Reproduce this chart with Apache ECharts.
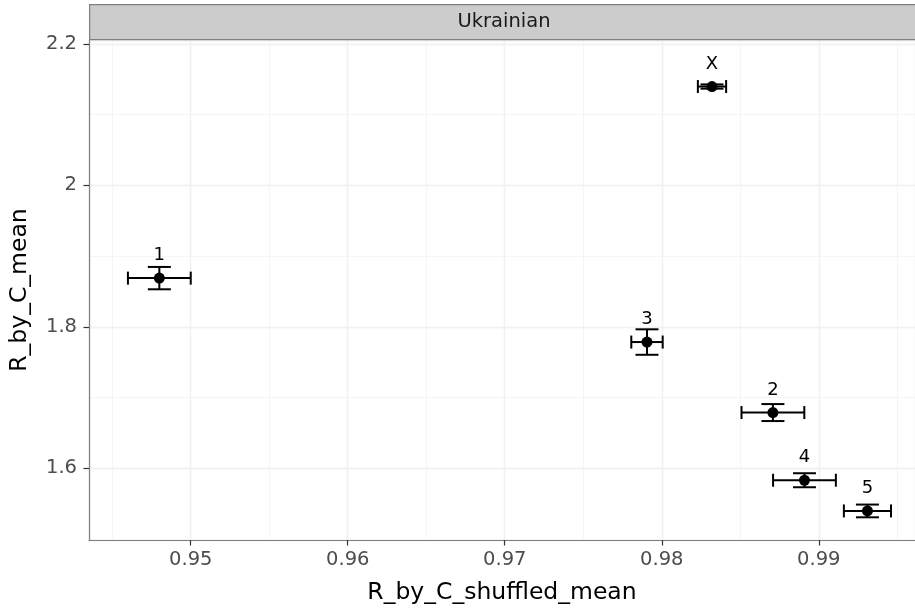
<!DOCTYPE html>
<html>
<head>
<meta charset="utf-8">
<script src="https://cdn.jsdelivr.net/npm/echarts@6/dist/echarts.min.js"></script>
<style>
  html, body { margin: 0; padding: 0; background: #fff; }
  #chart { width: 915px; height: 611px; }
</style>
</head>
<body>
<div id="chart"></div>
<script>
  // data
  var labels = ['1', '2', '3', '4', '5', 'X'];
  var xMean = [0.948, 0.98708, 0.97906, 0.98909, 0.9931, 0.9832];
  var xErr = [0.002, 0.002, 0.001, 0.002, 0.0015, 0.0009];
  var yMean = [1.8688, 1.6787, 1.7784, 1.583, 1.5396, 2.1397];
  var yErr = [0.0158, 0.012, 0.018, 0.0099, 0.009, 0.003];
  var facet = 'Ukrainian';

  var font = 'DejaVu Sans';
  // the panel runs a little past the right edge of the picture
  var xMin = 0.94352, xMax = 0.99613;
  var yMin = 1.4985, yMax = 2.2055;

  var rows = labels.map(function(l, i) {
    return [xMean[i], yMean[i], xErr[i], yErr[i], l];
  });

  function mainAxis(min, max, step, name, gap, margin) {
    return {
      type: 'value', min: min, max: max,
      minInterval: step, maxInterval: step,
      name: name, nameLocation: 'middle', nameGap: gap,
      nameTextStyle: { fontFamily: font, fontSize: 23.5, color: '#000' },
      axisLine: { show: true, lineStyle: { color: '#7f7f7f', width: 1.2 } },
      axisTick: { show: true, length: 5.5, lineStyle: { color: '#333', width: 1.2 } },
      axisLabel: { fontFamily: font, fontSize: 19.5, color: '#4d4d4d', margin: margin,
                   showMinLabel: false, showMaxLabel: false },
      splitLine: { show: true, lineStyle: { color: '#ebebeb', width: 1.4 } }
    };
  }

  function minorAxis(min, max, step) {
    return {
      type: 'value', min: min, max: max,
      minInterval: step, maxInterval: step,
      axisLine: { show: false }, axisTick: { show: false }, axisLabel: { show: false },
      splitLine: { show: true, lineStyle: { color: '#f3f3f3', width: 0.8 } }
    };
  }

  var chart = echarts.init(document.getElementById('chart'), null, { renderer: 'canvas' });

  var option = {
    backgroundColor: '#fff',
    animation: false,
    grid: { left: 89, top: 40, right: 0, height: 500, containLabel: false },
    xAxis: [
      mainAxis(xMin, xMax, 0.01, 'R_by_C_shuffled_mean', 41, 10),
      minorAxis(xMin, xMax, 0.005)
    ],
    yAxis: [
      mainAxis(yMin, yMax, 0.2, 'R_by_C_mean', 57, 12),
      minorAxis(yMin, yMax, 0.1)
    ],
    graphic: [
      {
        type: 'rect', left: 89, top: 4, z: 10,
        shape: { width: 831, height: 35 },
        style: { fill: '#cccccc', stroke: '#7f7f7f', lineWidth: 1.2 }
      },
      {
        type: 'text', x: 504, y: 22, z: 11,
        style: { text: facet, fontFamily: font, fontSize: 19.5, fill: '#1a1a1a',
                 align: 'center', verticalAlign: 'middle' }
      }
    ],
    series: [
      {
        type: 'custom',
        xAxisIndex: 0, yAxisIndex: 0,
        data: rows,
        z: 3,
        renderItem: function(params, api) {
          var x = api.value(0), y = api.value(1);
          var ex = api.value(2), ey = api.value(3);
          var l = api.coord([x - ex, y]), r = api.coord([x + ex, y]);
          var t = api.coord([x, y + ey]), b = api.coord([x, y - ey]);
          var capH = 6.5, capW = 11.5;
          var st = { stroke: '#000', lineWidth: 2 };
          function seg(x1, y1, x2, y2) {
            return { type: 'line', shape: { x1: x1, y1: y1, x2: x2, y2: y2 }, style: st };
          }
          return {
            type: 'group',
            children: [
              seg(l[0], l[1], r[0], r[1]),
              seg(l[0], l[1] - capH, l[0], l[1] + capH),
              seg(r[0], r[1] - capH, r[0], r[1] + capH),
              seg(t[0], t[1], b[0], b[1]),
              seg(t[0] - capW, t[1], t[0] + capW, t[1]),
              seg(b[0] - capW, b[1], b[0] + capW, b[1])
            ]
          };
        }
      },
      {
        type: 'scatter',
        xAxisIndex: 0, yAxisIndex: 0,
        data: rows,
        symbol: 'circle',
        symbolSize: 11,
        z: 4,
        itemStyle: { color: '#000', opacity: 1 },
        label: {
          show: true, position: 'top', distance: 8,
          fontFamily: font, fontSize: 18, color: '#000',
          formatter: function(p) { return p.data[4]; }
        },
        emphasis: { disabled: true }
      }
    ]
  };

  chart.setOption(option);
</script>
</body>
</html>
